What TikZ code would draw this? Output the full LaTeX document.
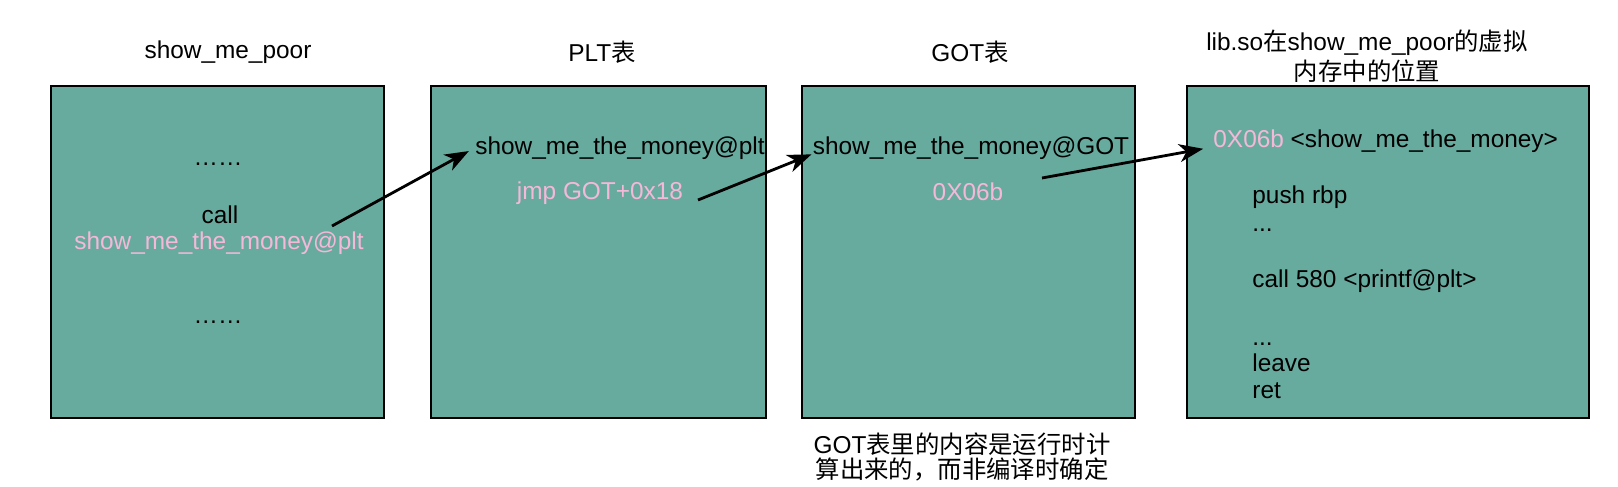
\documentclass[tikz,border=0pt]{standalone}
\usepackage{fontspec}
\setmainfont{Liberation Sans}
\newfontfamily\cjk{Noto Sans CJK SC}
\usetikzlibrary{arrows.meta}
\definecolor{memteal}{HTML}{67AB9F}
\definecolor{addrpink}{HTML}{F5B8D8}
\tikzset{every picture/.style={/utils/exec={\fontsize{12.2pt}{15pt}\selectfont}}}
\tikzset{mem/.style={draw, fill=memteal, line width=1.3pt, inner sep=0pt, minimum height=166pt}}
\tikzset{txt/.style={inner sep=0pt}}
\tikzset{addr/.style={txt, text=addrpink}}
\tikzset{jump/.style={-{Stealth[length=12pt,width=9pt,inset=3.5pt]}, line width=1.4pt}}

\begin{document}
\begin{tikzpicture}[x=0.5pt, y=-0.5pt]
    \useasboundingbox (0,0) rectangle (1618,487);
    % the four memory regions
    \node [mem, minimum width=166.5pt] (poor) at (217.5,252) {};
    \node [mem, minimum width=167.5pt] (plt) at (598.5,252) {};
    \node [mem, minimum width=166.5pt] (got) at (968.5,252) {};
    \node [mem, minimum width=201pt] (lib) at (1388,252) {};
    % titles
    \node [txt] (poortitle) at (228,52) {show\_me\_poor};
    \node [txt] (plttitle) at (602,52) {PLT{\cjk 表}};
    \node [txt] (gottitle) at (970,52) {GOT{\cjk 表}};
    \node [txt, align=center] (libtitle) at (1367,56) {lib.so{\cjk 在}show\_me\_poor{\cjk 的虚拟}\\{\cjk 内存中的位置}};
    \node [txt, align=center] (gotnote) at (962,456.5) {GOT{\cjk 表里的内容是运行时计}\\[-2.5pt]{\cjk 算出来的，而非编译时确定}};
    % show_me_poor
    \node [txt] (dotsup) at (218,164) {……};
    \node [txt, anchor=base] (call) at (220,223) {call};
    \node [addr, anchor=base] (callee) at (219,249) {show\_me\_the\_money@plt};
    \node [txt] (dotsdown) at (218,322) {……};
    % PLT and GOT
    \node [txt, anchor=base west] (pltentry) at (475,154) {show\_me\_the\_money@plt};
    \node [addr] (jmp) at (600,193) {jmp GOT+0x18};
    \node [txt, anchor=base] (gotentry) at (971,154) {show\_me\_the\_money@GOT};
    \node [addr] (gotval) at (968,192) {0X06b};
    % lib.so code
    \node [txt, anchor=base west] (libentry) at (1213,147) {\textcolor{addrpink}{0X06b} <show\_me\_the\_money>};
    \foreach \y/\t [count=\i] in {203/push rbp, 231/{.{}.{}.}, 287/call 580 <printf@plt>, 345/{.{}.{}.}, 371/leave, 398/ret} {
        \node [txt, anchor=base west] (code\i) at (1252,\y) {\t};
    }
    % jumps
    \coordinate (callout) at (332,226);
    \coordinate (jmpout) at (698,200);
    \coordinate (gotout) at (1042,178);
    \draw [jump, shorten >=3.5pt] (callout) -- (pltentry.west);
    \draw [jump, shorten >=0.5pt] (jmpout) -- (gotentry.base west);
    \draw [jump, shorten >=5pt] (gotout) -- (libentry.base west);
\end{tikzpicture}
\end{document}
